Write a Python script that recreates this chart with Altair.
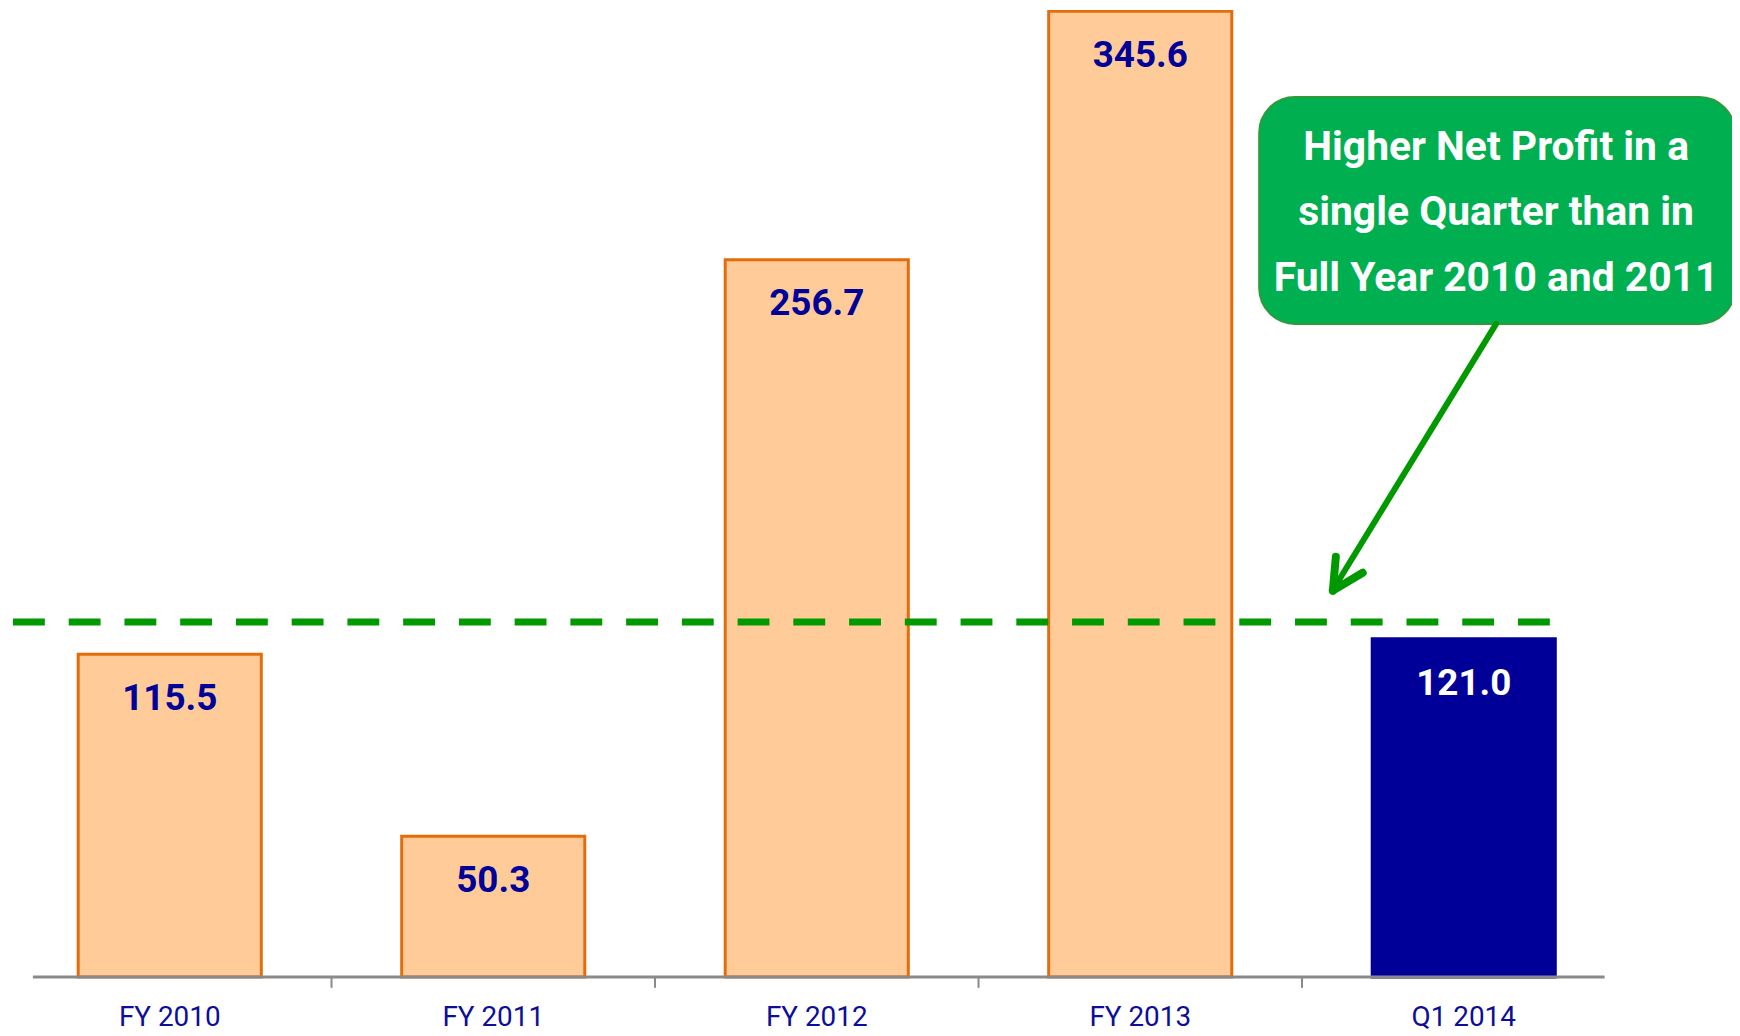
import altair as alt
import pandas as pd

# ---- data ----
categories = ["FY 2010", "FY 2011", "FY 2012", "FY 2013", "Q1 2014"]
values = [115.5, 50.3, 256.7, 345.6, 121.0]
value_labels = ["115.5", "50.3", "256.7", "345.6", "121.0"]
highlight = "Q1 2014"
tick_categories = categories[1:]
threshold = [127.0]
callout_lines = ["Higher Net Profit in a", "single Quarter than in", "Full Year 2010 and 2011"]

FONT = "Liberation Sans Narrow, Roboto, sans-serif"

df = pd.DataFrame({"cat": categories, "value": values, "label": value_labels})

x_scale = alt.Scale(domain=categories, paddingInner=0.434, paddingOuter=0.217)
y_scale = alt.Scale(domain=[0, 345.6], nice=False, zero=True)

base = alt.Chart(df)

bars = base.mark_bar(strokeWidth=3).encode(
    x=alt.X("cat:N", scale=x_scale, sort=categories,
            axis=alt.Axis(title=None, labelAngle=0, domain=False, ticks=False, tickSize=0,
                          grid=False, labelFont=FONT, labelFontSize=28,
                          labelColor="#0D0D99", labelBaseline="alphabetic", labelPadding=49)),
    y=alt.Y("value:Q", scale=y_scale, axis=None),
    fill=alt.condition(alt.datum.cat == highlight, alt.value("#000099"), alt.value("#FFCC99")),
    stroke=alt.condition(alt.datum.cat == highlight, alt.value("#000099"), alt.value("#E46C0A")),
)

labels = base.mark_text(font=FONT, fontSize=37, fontWeight="bold", baseline="middle", dy=45).encode(
    x=alt.X("cat:N", scale=x_scale, sort=categories),
    y=alt.Y("value:Q", scale=y_scale),
    text="label:N",
    color=alt.condition(alt.datum.cat == highlight, alt.value("#FFFFFF"), alt.value("#000099")),
)

axis_line = alt.Chart(pd.DataFrame({"v": [0]})).mark_rule(color="#898989", strokeWidth=3).encode(
    y=alt.Y("v:Q", scale=y_scale), x=alt.value(25), x2=alt.value(1604)
)

ticks = alt.Chart(pd.DataFrame({"cat": tick_categories})).mark_rule(
    color="#898989", strokeWidth=2, xOffset=-70.5
).encode(
    x=alt.X("cat:N", scale=x_scale, sort=categories, bandPosition=0),
    y=alt.value(970), y2=alt.value(981),
)

dashed = alt.Chart(pd.DataFrame({"v": threshold})).mark_rule(
    color="#009900", strokeWidth=7, strokeDash=[32, 24]
).encode(y=alt.Y("v:Q", scale=y_scale), x=alt.value(5), x2=alt.value(1549))

one = pd.DataFrame({"k": [0]})

box = alt.Chart(one).mark_rect(cornerRadius=36, fill="#00B050", stroke="#2E9A3A", strokeWidth=2).encode(
    x=alt.value(1257), x2=alt.value(1735), y=alt.value(86), y2=alt.value(314)
)

box_text = alt.Chart(one).mark_text(
    text=callout_lines, font=FONT, fontSize=41, fontWeight="bold", color="#FFFFFF",
    align="center", baseline="middle", lineHeight=66
).encode(x=alt.value(1495), y=alt.value(137))

arrow_col = "#009900"
shaft = alt.Chart(one).mark_rule(color=arrow_col, strokeWidth=6, strokeCap="round").encode(
    x=alt.value(1495), y=alt.value(314), x2=alt.value(1333), y2=alt.value(578)
)
arm1 = alt.Chart(one).mark_rule(color=arrow_col, strokeWidth=8, strokeCap="round").encode(
    x=alt.value(1331), y=alt.value(582), x2=alt.value(1334), y2=alt.value(548)
)
arm2 = alt.Chart(one).mark_rule(color=arrow_col, strokeWidth=8, strokeCap="round").encode(
    x=alt.value(1331), y=alt.value(582), x2=alt.value(1361), y2=alt.value(564)
)

chart = alt.layer(
    bars, labels, axis_line, ticks, dashed, box, box_text, shaft, arm1, arm2
).properties(
    width=1625, height=970,
    background="#FFFFFF",
    autosize=alt.AutoSizeParams(type="none"),
    padding={"left": 0, "top": 1, "right": 107, "bottom": 57},
).configure_view(strokeWidth=0, stroke=None)

chart.save("out.html", embed_options={"renderer": "svg", "actions": False})
